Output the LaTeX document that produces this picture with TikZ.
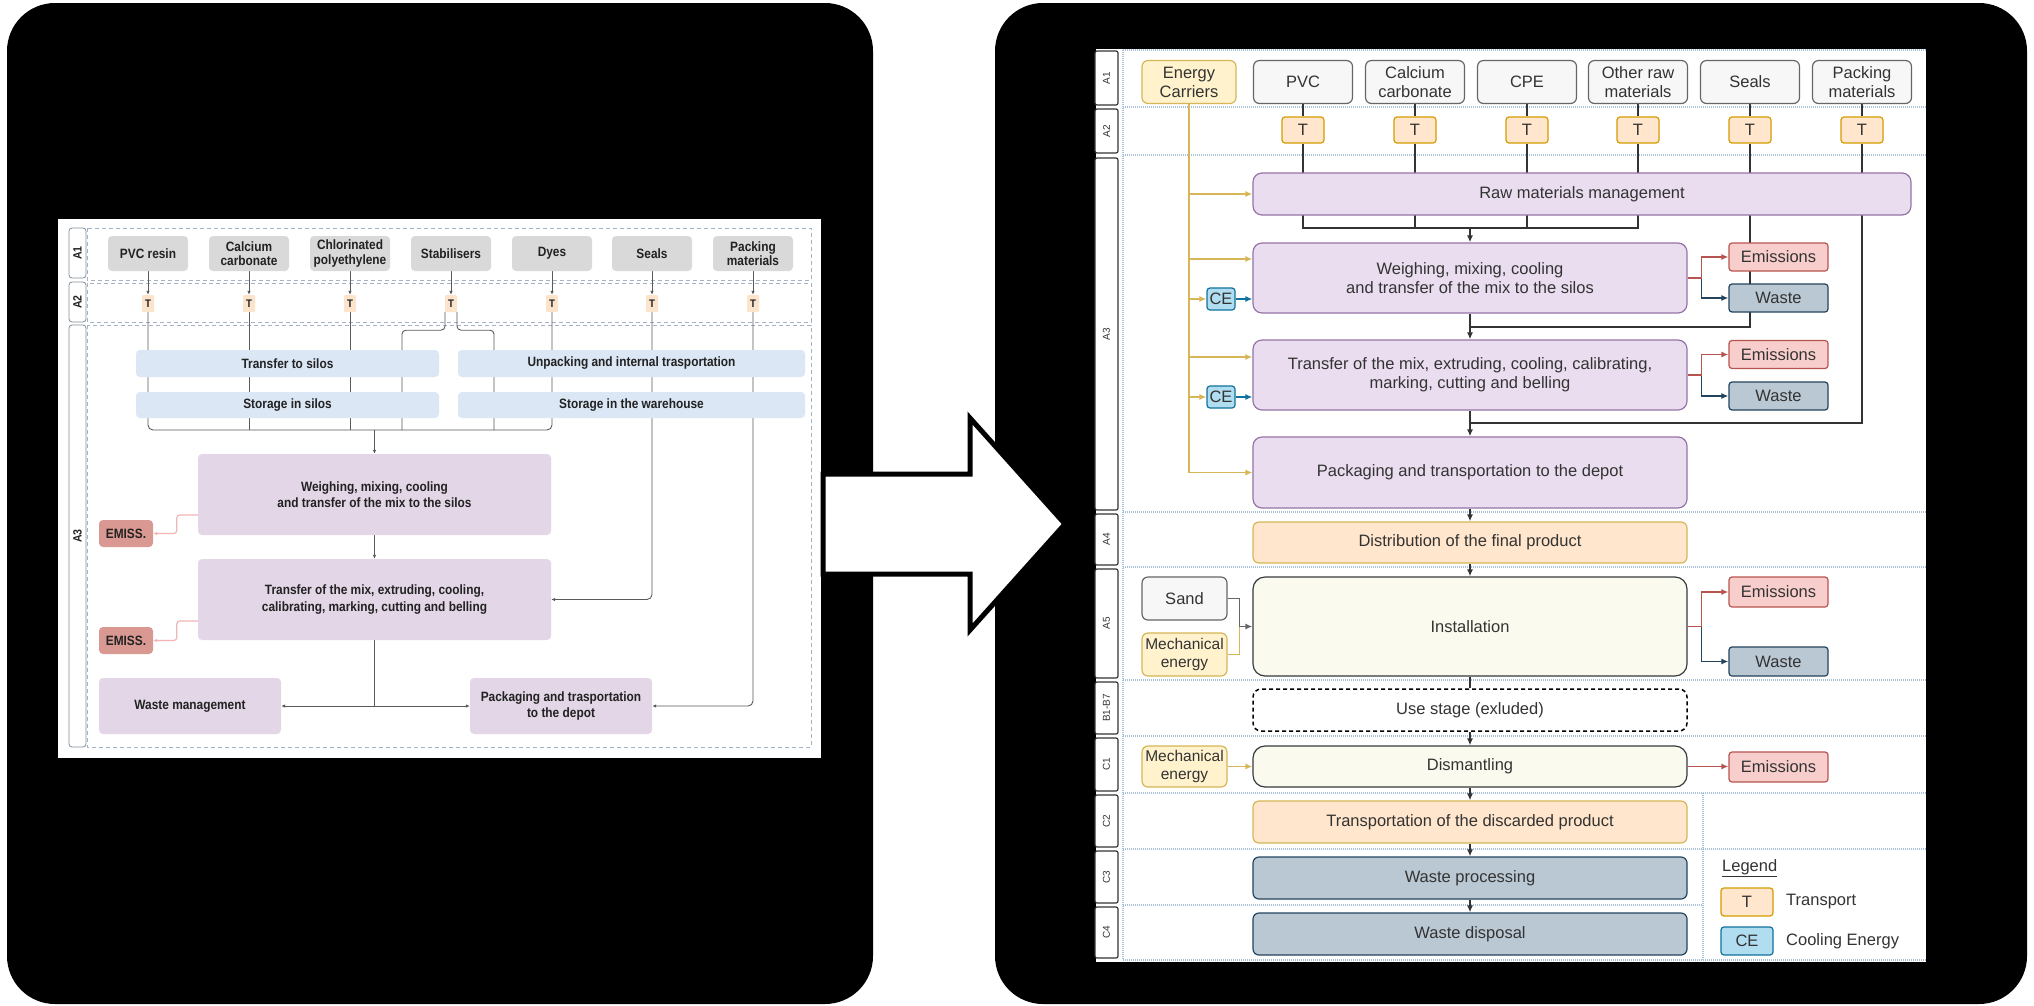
\documentclass[tikz,border=0pt]{standalone}
\usepackage{fontspec}
\setmainfont{Liberation Sans}
\newfontfamily\lfont[FakeStretch=0.88]{Liberation Sans}
\usetikzlibrary{arrows.meta,calc}
\pgfdeclarelayer{panel}
\pgfdeclarelayer{under}
\pgfsetlayers{panel,under,main}
% right diagram colours
\definecolor{matF}{HTML}{F7F7F7}\definecolor{matD}{HTML}{666666}
\definecolor{yelF}{HTML}{FFF2CC}\definecolor{yelD}{HTML}{D6B656}
\definecolor{orF}{HTML}{FFE6CC}\definecolor{orD}{HTML}{D79B00}
\definecolor{purF}{HTML}{E9DDEF}\definecolor{purD}{HTML}{9673A6}
\definecolor{redF}{HTML}{F8CECC}\definecolor{redD}{HTML}{B85450}
\definecolor{wasF}{HTML}{BAC8D3}\definecolor{wasD}{HTML}{23445D}
\definecolor{ceF}{HTML}{B1DDF0}\definecolor{ceD}{HTML}{10739E}
\definecolor{insF}{HTML}{FBFAEE}\definecolor{insD}{HTML}{36393D}
\definecolor{sepC}{HTML}{A9C1DA}
\definecolor{lineC}{HTML}{333333}
% left diagram colours
\definecolor{lgray}{HTML}{D9D9D9}
\definecolor{lT}{HTML}{FCE4CC}
\definecolor{lblue}{HTML}{DCE7F5}
\definecolor{lpur}{HTML}{E3D6E6}
\definecolor{lem}{HTML}{DA9893}
\definecolor{lline}{HTML}{5A5A5A}
\definecolor{lpink}{HTML}{F2B5B5}
\definecolor{ldash}{HTML}{A3B2C4}
\definecolor{ltext}{HTML}{222222}
\begin{document}
\begin{tikzpicture}[x=1pt,y=-1pt,
  rbase/.style={rounded corners=6pt, align=center, inner sep=0pt, line width=1.2pt,
    text=lineC, font=\fontsize{16.5}{19}\selectfont},
  matR/.style={rbase, fill=matF, draw=matD, minimum width=99, minimum height=43},
  yelR/.style={rbase, fill=yelF, draw=yelD},
  tR/.style={rbase, rounded corners=3pt, fill=orF, draw=orD, minimum width=42, minimum height=26},
  procR/.style={rbase, rounded corners=9pt, fill=purF, draw=purD},
  orR/.style={rbase, fill=orF, draw=yelD, minimum width=434, minimum height=42},
  insR/.style={rbase, rounded corners=12pt, fill=insF, draw=insD, minimum width=434},
  wasR/.style={rbase, fill=wasF, draw=wasD, minimum width=434, minimum height=42},
  emR/.style={rbase, rounded corners=3pt, fill=redF, draw=redD, minimum width=99},
  waR/.style={rbase, rounded corners=3pt, fill=wasF, draw=wasD, minimum width=99},
  ceR/.style={rbase, rounded corners=3pt, fill=ceF, draw=ceD, minimum width=28, minimum height=22},
  lblR/.style={draw=lineC, fill=white, line width=1.2pt, rounded corners=2pt, minimum width=23,
    inner sep=0pt, text=lineC, font=\fontsize{10}{10}\selectfont},
  sepR/.style={draw=sepC, line width=2.4pt, dash pattern=on 1pt off 1pt},
  cline/.style={draw=lineC, line width=1.5pt},
  eline/.style={draw=yelD, line width=1.5pt},
  rline/.style={draw=redD, line width=1.5pt},
  bline/.style={draw=wasD, line width=1.5pt},
  celine/.style={draw=ceD, line width=1.5pt},
  gline/.style={draw=matD, line width=1.5pt},
  arr/.style={-{Latex[length=7pt,width=6pt]}},
  % left diagram
  lbase/.style={rounded corners=4pt, align=center, inner sep=0pt, text=ltext,
    font=\lfont\fontsize{13.5}{14.5}\selectfont\bfseries},
  lmat/.style={lbase, fill=lgray, minimum width=80, minimum height=35},
  lTb/.style={lbase, rounded corners=1pt, fill=lT, minimum width=12, minimum height=17,
    font=\lfont\fontsize{11}{11}\selectfont\bfseries},
  lbl/.style={lbase, fill=lblue},
  lpr/.style={lbase, fill=lpur, font=\lfont\fontsize{13.5}{16.5}\selectfont\bfseries},
  lemb/.style={lbase, fill=lem, minimum width=54, minimum height=27},
  llab/.style={draw=ldash!80!black, fill=white, line width=0.8pt, rounded corners=3pt,
    minimum width=17, inner sep=0pt, text=ltext, font=\lfont\fontsize{12}{12}\selectfont\bfseries},
  dashL/.style={draw=ldash, line width=0.9pt, dash pattern=on 4pt off 3pt},
  lc/.style={draw=lline, line width=0.9pt},
  pk/.style={draw=lpink, line width=1.2pt},
  larr/.style={-{Latex[length=4pt,width=3.5pt]}}
]
\useasboundingbox (0,0) rectangle (2034,1005);

% ---------------- panels and big arrow ----------------
\begin{pgfonlayer}{panel}
\fill[white] (0,0) rectangle (2034,1005);
\fill[black, rounded corners=48pt] (7,3) rectangle (873,1004);
\fill[black, rounded corners=48pt] (995,3) rectangle (2027,1004);
\fill[white] (58,219) rectangle (821,758);
\fill[white] (1096,49) rectangle (1926,962);
\draw[line width=5pt, fill=white, line join=miter]
  (823,474) -- (970,474) -- (970,418) -- (1065,524) -- (970,630) -- (970,574) -- (823,574) -- cycle;
% right separators
\foreach \yy in {50,107,155,512,567,680,736,793,849,960}
  \draw[sepR] (1123,\yy) -- (1926,\yy);
\draw[sepR] (1123,905) -- (1703,905);
\draw[sepR] (1123,50) -- (1123,960);
\draw[sepR] (1703,793) -- (1703,960);
% left dashed bands
\draw[dashL] (87,228) rectangle (811,280);
\draw[dashL] (87,283) rectangle (811,322);
\draw[dashL] (87,325) rectangle (811,747);
\end{pgfonlayer}

% ---------------- right diagram: stage labels ----------------
\node[lblR, minimum height=54] (sA1) at (1106.5,78) {\rotatebox{90}{A1}};
\node[lblR, minimum height=44] (sA2) at (1106.5,131) {\rotatebox{90}{A2}};
\node[lblR, minimum height=352] (sA3) at (1106.5,334) {\rotatebox{90}{A3}};
\node[lblR, minimum height=51] (sA4) at (1106.5,539.5) {\rotatebox{90}{A4}};
\node[lblR, minimum height=109] (sA5) at (1106.5,623.5) {\rotatebox{90}{A5}};
\node[lblR, minimum height=52] (sB) at (1106.5,708) {\rotatebox{90}{B1-B7}};
\node[lblR, minimum height=53] (sC1) at (1106.5,764.5) {\rotatebox{90}{C1}};
\node[lblR, minimum height=52] (sC2) at (1106.5,821) {\rotatebox{90}{C2}};
\node[lblR, minimum height=52] (sC3) at (1106.5,877) {\rotatebox{90}{C3}};
\node[lblR, minimum height=51] (sC4) at (1106.5,932.5) {\rotatebox{90}{C4}};

% ---------------- right diagram: nodes ----------------
\node[yelR, minimum width=94, minimum height=43] (EC) at (1189,82) {Energy\\Carriers};
\node[matR] (PVC) at (1303,82) {PVC};
\node[matR] (CAC) at (1415,82) {Calcium\\carbonate};
\node[matR] (CPE) at (1527,82) {CPE};
\node[matR] (ORM) at (1638,82) {Other raw\\materials};
\node[matR] (SEA) at (1750,82) {Seals};
\node[matR] (PAK) at (1862,82) {Packing\\materials};
\node[tR] (T1) at (1303,130) {T};
\node[tR] (T2) at (1415,130) {T};
\node[tR] (T3) at (1527,130) {T};
\node[tR] (T4) at (1638,130) {T};
\node[tR] (T5) at (1750,130) {T};
\node[tR] (T6) at (1862,130) {T};
\node[procR, minimum width=658, minimum height=42] (RMM) at (1582,194) {Raw materials management};
\node[procR, minimum width=434, minimum height=70] (WEI) at (1470,278) {Weighing, mixing, cooling\\and transfer of the mix to the silos};
\node[emR, minimum height=28] (EM1) at (1778.5,257) {Emissions};
\node[waR, minimum height=28] (WA1) at (1778.5,298) {Waste};
\node[ceR] (CE1) at (1221,299) {CE};
\node[procR, minimum width=434, minimum height=70] (TRA) at (1470,375) {Transfer of the mix, extruding, cooling, calibrating,\\marking, cutting and belling};
\node[emR, minimum height=28] (EM2) at (1778.5,354.5) {Emissions};
\node[waR, minimum height=28] (WA2) at (1778.5,396) {Waste};
\node[ceR] (CE2) at (1221,397) {CE};
\node[procR, minimum width=434, minimum height=71] (PKG) at (1470,472.5) {Packaging and transportation to the depot};
\node[orR, minimum height=41] (DIS) at (1470,542.5) {Distribution of the final product};
\node[insR, minimum height=99] (INS) at (1470,626.5) {Installation};
\node[matR, minimum width=85] (SAND) at (1184.5,598.5) {Sand};
\node[yelR, minimum width=85, minimum height=43, font=\fontsize{15.5}{18}\selectfont] (ME1) at (1184.5,654.5) {Mechanical\\energy};
\node[emR, minimum height=30] (EM3) at (1778.5,592) {Emissions};
\node[waR, minimum height=29] (WA3) at (1778.5,661.5) {Waste};
\node[rbase, rounded corners=8pt, fill=white, draw=black, dash pattern=on 4pt off 3pt, line width=1.5pt,
  minimum width=434, minimum height=42] (USE) at (1470,710) {Use stage (exluded)};
\node[insR, minimum height=41] (DSM) at (1470,766.5) {Dismantling};
\node[yelR, minimum width=85, minimum height=41, font=\fontsize{15.5}{18}\selectfont] (ME2) at (1184.5,766.5) {Mechanical\\energy};
\node[emR, minimum height=30] (EM4) at (1778.5,767) {Emissions};
\node[orR] (TDP) at (1470,822) {Transportation of the discarded product};
\node[wasR] (WPR) at (1470,878) {Waste processing};
\node[wasR] (WDI) at (1470,934) {Waste disposal};
% legend
\node[anchor=west, text=lineC, font=\fontsize{16.5}{19}\selectfont, inner sep=0pt] (LEG) at (1722,868) {\underline{Legend}};
\node[tR, minimum width=52, minimum height=28] (LT) at (1747,902) {T};
\node[anchor=west, text=lineC, font=\fontsize{16.5}{19}\selectfont, inner sep=0pt] (LTt) at (1786,902) {Transport};
\node[ceR, minimum width=52, minimum height=28] (LCE) at (1747,941) {CE};
\node[anchor=west, text=lineC, font=\fontsize{16.5}{19}\selectfont, inner sep=0pt] (LCEt) at (1786,941) {Cooling Energy};

% ---------------- right diagram: connectors ----------------
\begin{pgfonlayer}{under}
\draw[cline] (PVC.south) -- (T1.north);
\draw[cline] (CAC.south) -- (T2.north);
\draw[cline] (CPE.south) -- (T3.north);
\draw[cline] (ORM.south) -- (T4.north);
\draw[cline] (SEA.south) -- (T5.north);
\draw[cline] (PAK.south) -- (T6.north);
\draw[cline] (T1.south) -- (T1.south |- 0,228) -- (T4.south |- 0,228) -- (T4.south);
\draw[cline] (T2.south) -- (T2.south |- 0,228);
\draw[cline] (T3.south) -- (T3.south |- 0,228);
\draw[cline,arr] (WEI.north |- 0,228) -- (WEI.north);
\draw[cline] (T5.south) |- (WEI.south |- 0,327);
\draw[cline,arr] (WEI.south) -- (TRA.north);
\draw[cline] (T6.south) |- (TRA.south |- 0,423);
\draw[cline,arr] (TRA.south) -- (PKG.north);
\draw[cline,arr] (PKG.south) -- (DIS.north);
\draw[cline,arr] (DIS.south) -- (INS.north);
\draw[cline] (INS.south) -- (USE.north);
\draw[cline,arr] (USE.south) -- (DSM.north);
\draw[cline,arr] (DSM.south) -- (TDP.north);
\draw[cline,arr] (TDP.south) -- (WPR.north);
\draw[cline,arr] (WPR.south) -- (WDI.north);
% energy carriers
\draw[eline,arr] (EC.south) |- (PKG.west);
\draw[eline,arr] (EC.south |- RMM.west) -- (RMM.west |- 0,194);
\draw[eline,arr] (EC.south |- 0,259) -- (WEI.west |- 0,259);
\draw[eline,arr] (EC.south |- CE1.west) -- (CE1.west);
\draw[eline,arr] (EC.south |- 0,357) -- (TRA.west |- 0,357);
\draw[eline,arr] (EC.south |- CE2.west) -- (CE2.west);
\draw[celine,arr] (CE1.east) -- (WEI.west |- CE1.east);
\draw[celine,arr] (CE2.east) -- (TRA.west |- CE2.east);
% emissions / waste branches
\draw[rline,arr] (WEI.east) -- ++(14,0) |- (EM1.west);
\draw[bline,arr] ($(WEI.east)+(14,0)$) |- (WA1.west);
\draw[rline] (WEI.east) -- ++(14,0);
\draw[rline,arr] (TRA.east) -- ++(14,0) |- (EM2.west);
\draw[bline,arr] ($(TRA.east)+(14,0)$) |- (WA2.west);
\draw[rline] (TRA.east) -- ++(14,0);
\draw[rline,arr] (INS.east) -- ++(14,0) |- (EM3.west);
\draw[bline,arr] ($(INS.east)+(14,0)$) |- (WA3.west);
\draw[rline] (INS.east) -- ++(14,0);
\draw[rline,arr] (DSM.east) -- (EM4.west |- DSM.east);
% installation inputs
\draw[eline] (ME1.east) -| ($(INS.west)+(-13,0)$);
\draw[gline] (SAND.east) -| ($(INS.west)+(-13,0)$);
\draw[gline,arr] ($(INS.west)+(-13,0)$) -- (INS.west);
\draw[eline,arr] (ME2.east) -- (DSM.west);
\end{pgfonlayer}

% ---------------- left diagram ----------------
\node[llab, minimum height=50] (lA1) at (77.5,253) {\rotatebox{90}{A1}};
\node[llab, minimum height=40] (lA2) at (77.5,302) {\rotatebox{90}{A2}};
\node[llab, minimum height=422] (lA3) at (77.5,536) {\rotatebox{90}{A3}};

\node[lmat] (Lm1) at (148,253.5) {PVC resin};
\node[lmat] (Lm2) at (249,253.5) {Calcium\\carbonate};
\node[lmat] (Lm3) at (350,253.5) {Chlorinated\\polyethylene};
\node[lmat] (Lm4) at (451,253.5) {Stabilisers};
\node[lmat] (Lm5) at (552,253.5) {Dyes};
\node[lmat] (Lm6) at (652,253.5) {Seals};
\node[lmat] (Lm7) at (753,253.5) {Packing\\materials};
\node[lTb] (LT1) at (148,303.5) {T};
\node[lTb] (LT2) at (249,303.5) {T};
\node[lTb] (LT3) at (350,303.5) {T};
\node[lTb] (LT4) at (451,303.5) {T};
\node[lTb] (LT5) at (552,303.5) {T};
\node[lTb] (LT6) at (652,303.5) {T};
\node[lTb] (LT7) at (753,303.5) {T};
\node[lbl, minimum width=303, minimum height=27] (LTS) at (287.5,363.5) {Transfer to silos};
\node[lbl, minimum width=347, minimum height=27] (LUP) at (631.5,363.5) {Unpacking and internal trasportation};
\node[lbl, minimum width=303, minimum height=26] (LSS) at (287.5,405) {Storage in silos};
\node[lbl, minimum width=347, minimum height=26] (LSW) at (631.5,405) {Storage in the warehouse};
\node[lpr, minimum width=353, minimum height=81] (LWE) at (374.5,494.5) {Weighing, mixing, cooling\\and transfer of the mix to the silos};
\node[lpr, minimum width=353, minimum height=81] (LTR) at (374.5,599.5) {Transfer of the mix, extruding, cooling,\\calibrating, marking, cutting and belling};
\node[lemb] (LE1) at (126,533.5) {EMISS.};
\node[lemb] (LE2) at (126,640.5) {EMISS.};
\node[lpr, minimum width=182, minimum height=56] (LWM) at (190,706) {Waste management};
\node[lpr, minimum width=182, minimum height=56] (LPK) at (561,706) {Packaging and trasportation\\to the depot};

\begin{pgfonlayer}{under}
\foreach \i in {1,...,7} \draw[lc,larr] (Lm\i.south) -- (LT\i.north);
\draw[lc, rounded corners=5pt] (LT1.south) -- (LT1.south |- 0,430) -- (LT5.south |- 0,430) -- (LT5.south);
\draw[lc] (LT2.south) -- (LT2.south |- 0,430);
\draw[lc] (LT3.south) -- (LT3.south |- 0,430);
\draw[lc, rounded corners=4pt] ($(LT4.south)+(-6,0)$) -- ++(0,18) -| (402,430);
\draw[lc, rounded corners=4pt] ($(LT4.south)+(6,0)$) -- ++(0,18) -| (494,430);
\draw[lc,larr] (LWE.north |- 0,430) -- (LWE.north);
\draw[lc,larr,rounded corners=5pt] (LT6.south) |- (LTR.east);
\draw[lc,larr,rounded corners=5pt] (LT7.south) |- (LPK.east);
\draw[lc,larr] (LWE.south) -- (LTR.north);
\draw[lc,larr] (LTR.south) |- (LWM.east);
\draw[lc,larr] (LTR.south |- LPK.west) -- (LPK.west);
\draw[pk,larr,rounded corners=3pt] ($(LWE.west)+(0,20.5)$) -- ++(-21,0) |- (LE1.east);
\draw[pk,larr,rounded corners=3pt] ($(LTR.west)+(0,21.5)$) -- ++(-21,0) |- (LE2.east);
\end{pgfonlayer}
\end{tikzpicture}
\end{document}
